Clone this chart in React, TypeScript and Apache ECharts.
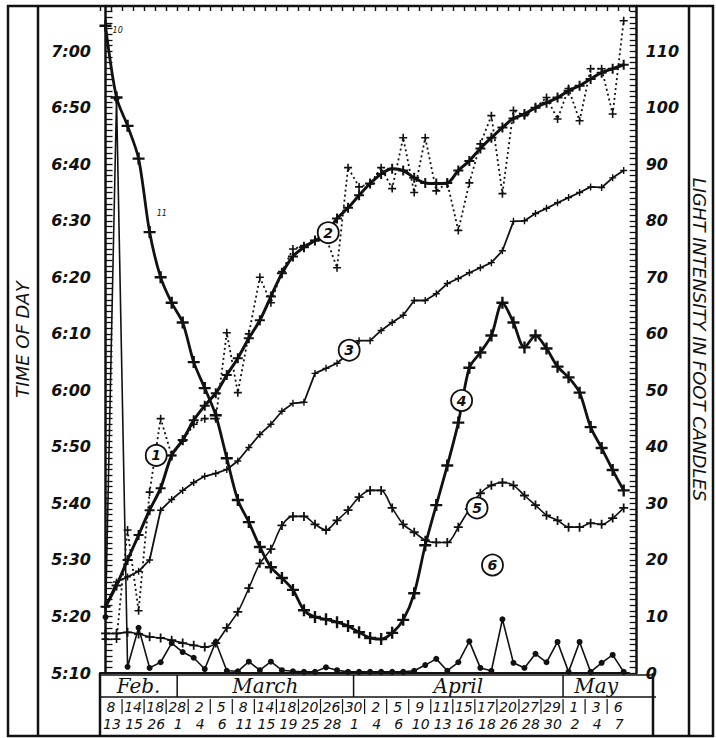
import React, { useEffect, useRef } from "react";
import * as echarts from "echarts";

// ---- categories (observation dates) ----
const febDays = [8, 13, 14, 15, 18, 26, 28];
const marDays = [1, 2, 4, 5, 6, 8, 11, 14, 15, 18, 19, 20, 25, 26, 28, 30];
const aprDays = [1, 2, 4, 5, 6, 9, 10, 11, 13, 15, 16, 17, 18, 20, 26, 27, 28, 29, 30];
const mayDays = [1, 2, 3, 4, 6, 7];
const monthLabels = ["Feb.", "March", "April", "May"];
const monthDays = [febDays, marDays, aprDays, mayDays];
const dates = monthDays.flatMap((days, m) => days.map((d) => `${monthLabels[m]} ${d}`));
const dayNumbers = monthDays.flat();

// ---- curves 1 & 2: time of day (minutes after midnight) ----
const curve1Time = [
  316, 316, 335.3, 321, 342, 355, 348.5, 351, 354, 355,
  355, 370.2, 359.6, 370, 380, 375.5, 381, 385, 385.6, 386.5,
  387, 381.7, 399.4, 396, 396.5, 399.4, 395.7, 404.7, 395, 404.7,
  395.3, 396.7, 388.3, 396.7, 403.6, 408.6, 394.8, 409.5, 408.6, 410,
  411.8, 408, 413.4, 407.7, 416.9, 416.9, 408.9, 425.4,
];
const curve2Time = [
  321.7, 325.5, 330, 334.4, 338.8, 342.7, 348.5, 351.2, 354.7, 357.3,
  359.5, 362.7, 365.7, 369.2, 372.4, 376.6, 380.7, 383.7, 385.3, 386.5,
  387.7, 390.4, 392.3, 394.5, 396.6, 398.3, 399.2, 398.9, 397.6, 396.7,
  396.6, 396.7, 398.9, 400.6, 402.8, 404.7, 406.5, 408.1, 408.9, 410,
  410.9, 411.8, 413, 413.9, 415.1, 416.2, 416.9, 417.6,
];
// ---- curves 3-6: light intensity (foot candles) ----
const curve3Light = [
  11.7, 16.1, 17, 18, 20, 28.8, 30.7, 32.3, 33.7, 34.8,
  35.3, 36, 37.5, 39.9, 42.2, 44, 46.3, 47.7, 47.9, 53,
  53.9, 54.8, 56.5, 58.8, 58.8, 60.6, 62, 63.3, 65.9, 65.9,
  67.1, 68.9, 69.8, 70.8, 71.7, 72.6, 74.7, 79.9, 80, 81.3,
  82.2, 83.2, 84.1, 85, 86, 85.9, 87.6, 88.9,
];
const curve4Light = [
  114.5, 101.8, 96.8, 91, 78, 70, 65.5, 62, 55, 50.4,
  45.6, 38, 30.6, 26.7, 22.3, 18.7, 16.8, 14.7, 11.1, 9.9,
  9.5, 9, 8.3, 7.2, 6.2, 6, 7.1, 9.4, 14.1, 22.6,
  29.7, 36.7, 44.3, 54, 56.7, 59.7, 65.5, 62, 57.6, 59.7,
  57.4, 54.2, 52.3, 49.6, 43.5, 39.8, 35.9, 32.3,
];
const curve5Light = [
  7, 7, 7.2, 6.9, 6.4, 6.2, 5.8, 5.3, 4.9, 4.6,
  5.3, 8, 10.8, 15, 19.4, 21.9, 26.1, 27.7, 27.7, 26.3,
  25.3, 27, 28.8, 31.1, 32.3, 32.3, 29.2, 26.3, 24.9, 23.5,
  23.1, 23.1, 25.8, 29, 31.8, 33.2, 33.7, 33.2, 31.4, 29.7,
  27.9, 27, 25.8, 25.8, 26.5, 26.3, 27.4, 29.2,
];
const curve6Light = [
  9.9, 101.6, 1.1, 8, 0.9, 1.9, 5.3, 3.7, 2.7, 0.7,
  5.5, 0.4, 0.3, 2, 0.5, 2, 0.5, 0.3, 0.2, 0.2,
  1, 0.5, 0.2, 0.2, 0.2, 0.2, 0.2, 0.2, 0.4, 1.4,
  2.5, 0.4, 1.9, 5.6, 0.9, 0.4, 9.5, 1.8, 0.9, 3.4,
  1.9, 5.5, 0.2, 5.5, 0.2, 1.8, 3.2, 0.2,
];
// circled curve numbers: [tag, axis, index position, value]
const curveTags: [string, number, number, number][] = [
  ["1", 0, 4.6, 348.5],
  ["2", 0, 20.2, 387.9],
  ["3", 1, 22.1, 57.1],
  ["4", 1, 32.3, 48.2],
  ["5", 1, 33.7, 29.2],
  ["6", 1, 35.1, 19.1],
];

const timeMin = 310;
const timeMax = 428;
const lightMin = 0;
const lightMax = 118;

const INK = "#111";
const plus = "path://M4,0h2v4h4v2h-4v4h-2v-4h-4v-2h4z";
const hand = "'DejaVu Sans', sans-serif";

const timeLabel = (v: number) =>
  `${Math.floor(v / 60)}:${String(Math.round(v % 60)).padStart(2, "0")}`;

function lineSeries(name: string, vals: number[], yAxisIndex: number, extra: any) {
  return {
    type: "line",
    name,
    yAxisIndex,
    xAxisIndex: 0,
    data: vals.map((v, i) => [i, v]),
    symbol: plus,
    symbolSize: 9,
    showAllSymbol: true,
    itemStyle: { color: INK },
    lineStyle: { color: INK, width: 2 },
    emphasis: { disabled: true },
    ...extra,
  };
}

export default function App() {
  const ref = useRef<HTMLDivElement>(null);
  useEffect(() => {
    document.body.style.margin = "0";
    const chart = echarts.init(ref.current!, null, { renderer: "svg" });
    const series: any[] = [
      lineSeries("1", curve1Time, 0, {
        symbolSize: 8,
        lineStyle: { color: INK, width: 1.8, type: [2, 3] },
      }),
      lineSeries("2", curve2Time, 0, { smooth: 0.3, symbolSize: 10, lineStyle: { color: INK, width: 3 } }),
      lineSeries("3", curve3Light, 1, { symbolSize: 7, lineStyle: { color: INK, width: 1.8 } }),
      lineSeries("4", curve4Light, 1, { smooth: 0.3, symbolSize: 12, lineStyle: { color: INK, width: 2.8 } }),
      lineSeries("5", curve5Light, 1, { smooth: 0.3, symbolSize: 9, lineStyle: { color: INK, width: 1.6 } }),
      lineSeries("6", curve6Light, 1, { symbol: "circle", symbolSize: 6, lineStyle: { color: INK, width: 1.6 } }),
    ];
    curveTags.forEach(([tag, axis, xi, v]) => {
      const s = series[Number(tag) - 1];
      s.markPoint = {
        symbol: "circle",
        symbolSize: 21,
        silent: true,
        itemStyle: { color: "#fff", borderColor: INK, borderWidth: 1.8 },
        label: {
          show: true,
          position: "inside",
          formatter: tag,
          color: INK,
          fontSize: 14,
          fontStyle: "italic",
          fontWeight: "bold",
          fontFamily: hand,
        },
        data: [{ coord: [xi, v], name: tag, value: axis }],
      };
    });

    const option: any = {
      animation: false,
      backgroundColor: "#fff",
      grid: { left: 100, top: 6, width: 545.5, height: 667, containLabel: false },
      xAxis: [
        {
          type: "value",
          min: -0.5,
          max: 47.5,
          position: "bottom",
          axisLine: { show: true, lineStyle: { color: INK, width: 2 } },
          axisTick: { show: false },
          axisLabel: { show: false },
          splitLine: { show: false },
        },
        {
          type: "category",
          data: dates,
          position: "top",
          boundaryGap: true,
          axisLine: { show: true, lineStyle: { color: INK, width: 2 } },
          axisTick: { show: true, inside: true, length: 5, interval: 0, lineStyle: { color: INK, width: 1.4 } },
          axisLabel: { show: false },
          splitLine: { show: false },
        },
      ],
      yAxis: [
        {
          type: "value",
          min: timeMin,
          max: timeMax,
          interval: 10,
          position: "left",
          name: "TIME OF DAY",
          nameLocation: "middle",
          nameGap: 69,
          nameRotate: 90,
          nameTextStyle: { color: INK, fontSize: 18, fontStyle: "italic", fontFamily: hand },
          axisLine: { show: true, lineStyle: { color: INK, width: 2.5 } },
          axisTick: { show: true, inside: true, length: 7, lineStyle: { color: INK, width: 1.3 } },
          minorTick: { show: true, splitNumber: 10, length: 7, lineStyle: { color: INK, width: 1.3 } },
          axisLabel: {
            formatter: timeLabel,
            showMaxLabel: false,
            margin: 9,
            color: INK,
            fontSize: 16,
            fontStyle: "italic",
            fontWeight: "bold",
            fontFamily: hand,
          },
          splitLine: { show: false },
        },
        {
          type: "value",
          min: lightMin,
          max: lightMax,
          interval: 10,
          position: "right",
          offset: 7.5,
          name: "LIGHT INTENSITY IN FOOT CANDLES",
          nameLocation: "middle",
          nameGap: 42,
          nameRotate: -90,
          nameTextStyle: { color: INK, fontSize: 18, fontStyle: "italic", fontFamily: hand },
          axisLine: { show: true, lineStyle: { color: INK, width: 2.5 } },
          axisTick: { show: true, inside: true, length: 7, lineStyle: { color: INK, width: 1.3 } },
          minorTick: { show: true, splitNumber: 10, length: 7, lineStyle: { color: INK, width: 1.3 } },
          axisLabel: {
            showMaxLabel: false,
            margin: 9,
            color: INK,
            fontSize: 16,
            fontStyle: "italic",
            fontWeight: "bold",
            fontFamily: hand,
          },
          splitLine: { show: false },
        },
      ],
      series,
    };
    chart.setOption(option);

    // ---- frame and date table, placed with the chart's own x scale ----
    const xOf = (i: number) => chart.convertToPixel({ xAxisIndex: 0 }, i) as number;
    const yBase = chart.convertToPixel({ yAxisIndex: 1 }, lightMin) as number;
    const yTop = chart.convertToPixel({ yAxisIndex: 1 }, lightMax) as number;
    const xL = xOf(-0.5);
    const xR = xL + 553;
    const rowMonth = yBase + 24;
    const bottom = 736;
    const line = (x1: number, y1: number, x2: number, y2: number, w = 2) => ({
      type: "line",
      silent: true,
      shape: { x1, y1, x2, y2 },
      style: { stroke: INK, lineWidth: w },
    });
    const text = (t: string, x: number, y: number, size: number, family = hand) => ({
      type: "text",
      silent: true,
      x,
      y,
      style: {
        text: t,
        fill: INK,
        fontSize: size,
        fontStyle: "italic",
        fontFamily: family,
        align: "center",
        verticalAlign: "middle",
      },
    });
    const els: any[] = [];
    els.push({
      type: "rect",
      silent: true,
      shape: { x: 8, y: yTop, width: 705, height: bottom - yTop },
      style: { fill: "none", stroke: INK, lineWidth: 2.5 },
    });
    els.push(line(38, yTop, 38, bottom, 2.5));
    els.push(line(689, yTop, 689, bottom, 2.5));
    els.push(line(xL, yBase, xL, bottom, 2.5));
    els.push(line(xR, yBase, xR, bottom, 2.5));
    els.push(line(xL, yBase + 2, xR, yBase + 2, 1.5));
    els.push(line(xL, rowMonth, xR + 3, rowMonth, 1.5));
    // month boxes
    let start = 0;
    monthDays.forEach((days, m) => {
      const end = start + days.length;
      if (m > 0) els.push(line(xOf(start - 0.5), yBase + 2, xOf(start - 0.5), rowMonth, 1.5));
      els.push(text(monthLabels[m], xOf((start + end - 1) / 2), yBase + 13, 20, "'DejaVu Serif', serif"));
      start = end;
    });
    // date columns: two dates per column
    for (let k = 0; k < dayNumbers.length / 2; k++) {
      const c = xOf(2 * k + 0.5);
      els.push(text(String(dayNumbers[2 * k]), c, rowMonth + 10, 14));
      els.push(text(String(dayNumbers[2 * k + 1]), c + 1, rowMonth + 27, 14));
      if (k > 0) els.push(line(xOf(2 * k - 0.5), rowMonth + 2, xOf(2 * k - 0.5), rowMonth + 17, 1.2));
    }
    // small pencil notes
    els.push(text("10", xOf(1.1), yTop + 24, 8));
    els.push(text("11", xOf(5.1), yTop + 207, 8));
    chart.setOption({ graphic: els });

    return () => chart.dispose();
  }, []);
  return <div ref={ref} style={{ position: "absolute", left: 0, top: 0, width: 716, height: 738 }} />;
}
